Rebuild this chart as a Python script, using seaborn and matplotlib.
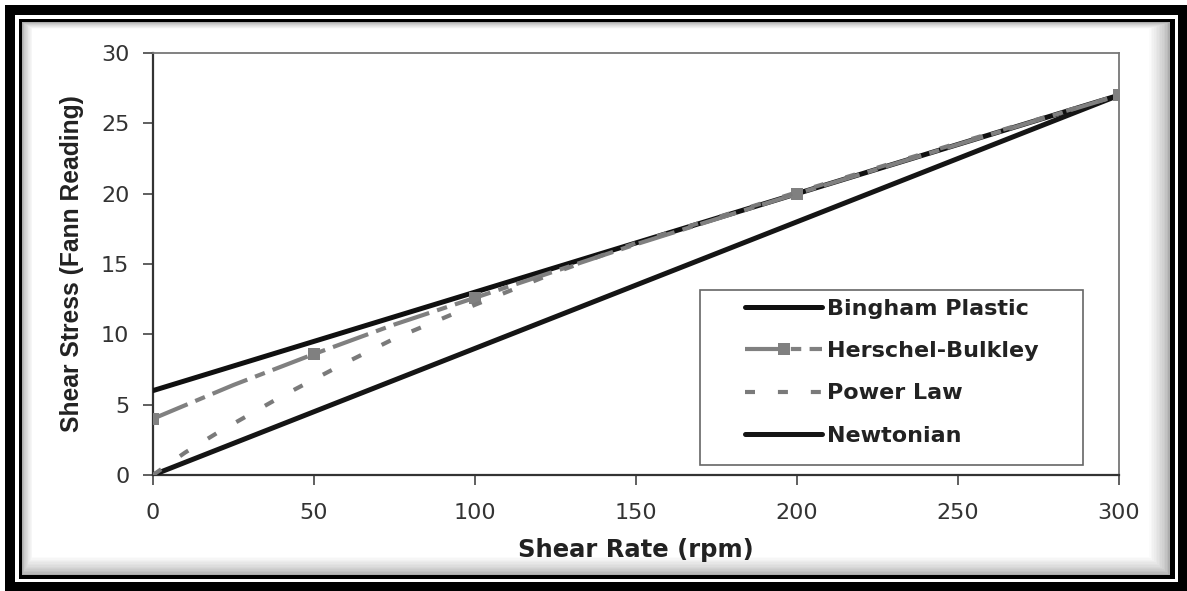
#Importing the needed Packages
import pandas as pd
import matplotlib
matplotlib.use("Agg")
import matplotlib.pyplot as plt
from matplotlib.patches import Rectangle
import seaborn as sns

# Rheology model curves
bingham_rate = [0, 300]
bingham_stress = [6.0, 27.0]

newton_rate = [0, 300]
newton_stress = [0.0, 27.0]

hb_rate = [0, 25, 50, 75, 100, 150, 200, 250, 300]
hb_stress = [4.0, 6.4, 8.6, 10.7, 12.6, 16.4, 20.0, 23.5, 27.0]
hb_marker_idx = [0, 2, 4, 6, 8]

power_rate = [0, 10, 20, 30, 40, 50, 60, 75, 100, 125, 150, 200, 250, 300]
power_stress = [0.0, 1.6, 3.0, 4.3, 5.6, 6.8, 8.0, 9.7, 12.1, 14.4, 16.5, 20.1, 23.6, 27.0]

x_ticks = [0, 50, 100, 150, 200, 250, 300]
y_ticks = [0, 5, 10, 15, 20, 25, 30]

sns.set_style("white")
plt.rcParams['font.family'] = ['DejaVu Sans']

W, H = 1187, 591
fig = plt.figure(figsize=(W / 100, H / 100), dpi=100)


def px_rect(x0, y0, x1, y1, **kw):
    # rectangle given in image pixels (origin top-left)
    r = Rectangle((x0 / W, 1 - y1 / H), (x1 - x0) / W, (y1 - y0) / H,
                  transform=fig.transFigure, **kw)
    fig.patches.append(r)


# picture frame: thick black, white gap, thin black, soft inner shadow
px_rect(5, 5, W, H, facecolor='black', edgecolor='none', zorder=-10)
px_rect(15, 15, 1178, 582, facecolor='white', edgecolor='none', zorder=-9)
px_rect(19, 19, 1175, 579, facecolor='black', edgecolor='none', zorder=-8)
steps = 14
for i in range(steps):
    g = 0.68 + 0.32 * (i / (steps - 1)) ** 0.7
    px_rect(22 + i * 0.8, 22 + i * 0.5, 1170 - i * 1.6, 575 - i * 1.4,
            facecolor=(g, g, g), edgecolor='none', zorder=-7 + i * 0.01)

ax = fig.add_axes([153 / W, 1 - 475 / H, (1119 - 153) / W, (475 - 53) / H])
ax.set_facecolor('white')

sns.lineplot(x=newton_rate, y=newton_stress, ax=ax, color='#151515', lw=3.6,
             label='Newtonian', zorder=3)
sns.lineplot(x=bingham_rate, y=bingham_stress, ax=ax, color='#101010', lw=3.6,
             label='Bingham Plastic', zorder=3)
sns.lineplot(x=hb_rate, y=hb_stress, ax=ax, color='#808080', lw=3,
             linestyle=(0, (9, 2, 2.5, 2)), marker='s', markersize=9,
             markevery=hb_marker_idx, markeredgewidth=0, sort=False,
             label='Herschel-Bulkley', zorder=4)
sns.lineplot(x=power_rate, y=power_stress, ax=ax, color='#7a7a7a', lw=3,
             linestyle=(0, (2.4, 5.5)), sort=False, label='Power Law', zorder=4)

ax.set_xlim(0, 300)
ax.set_ylim(0, 30)
ax.set_xticks(x_ticks)
ax.set_yticks(y_ticks)
ax.tick_params(axis='both', direction='out', length=7, width=1.2, color='#444',
               labelsize=16, labelcolor='#333', pad=10,
               bottom=True, left=True)
ax.tick_params(axis='x', pad=13)
for side in ['top', 'right']:
    ax.spines[side].set_color('#777')
    ax.spines[side].set_linewidth(1.3)
for side in ['left', 'bottom']:
    ax.spines[side].set_color('#333')
    ax.spines[side].set_linewidth(1.6)

ax.set_xlabel('Shear Rate (rpm)', fontsize=17.5, fontweight='bold', color='#222', labelpad=11)
ax.set_ylabel('Shear Stress (Fann Reading)', fontsize=17.7, fontweight='bold', color='#222',
              labelpad=12, family=['Liberation Sans', 'DejaVu Sans'])

# legend box drawn separately so the entries can sit inset like the original
ax.add_patch(Rectangle((0.566, 0.024), 0.397, 0.414, transform=ax.transAxes,
                       facecolor='white', edgecolor='#666', lw=1.2, zorder=5))
handles, labels = ax.get_legend_handles_labels()
order = ['Bingham Plastic', 'Herschel-Bulkley', 'Power Law', 'Newtonian']
hmap = dict(zip(labels, handles))
leg = ax.legend([hmap[k] for k in order], order, loc='upper left',
                bbox_to_anchor=(0.613, 0.417), frameon=False, borderpad=0,
                borderaxespad=0, handlelength=3.47, handletextpad=0.2,
                labelspacing=1.0, numpoints=1,
                prop={'weight': 'bold', 'size': 16})
leg.set_zorder(6)
for t in leg.get_texts():
    t.set_color('#222')

fig.savefig('out.png', dpi=100)
